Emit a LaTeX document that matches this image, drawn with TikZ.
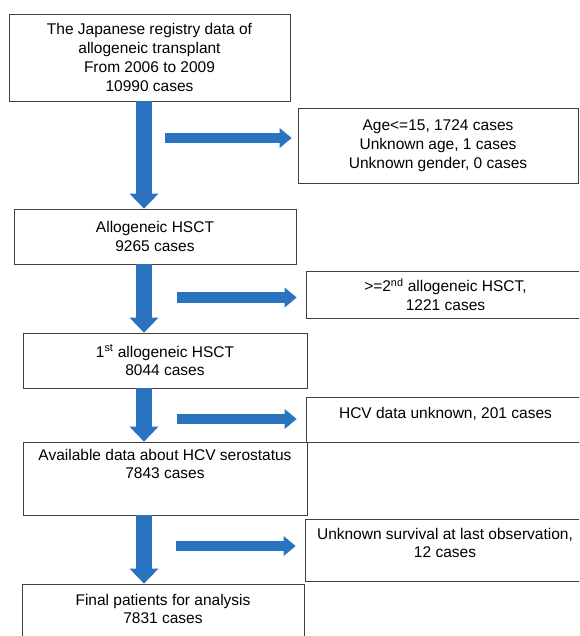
\documentclass[tikz,border=0pt]{standalone}
\usepackage{fontspec}
\setmainfont{Liberation Sans}
\usetikzlibrary{arrows.meta}
\definecolor{arrowblue}{rgb}{0.16, 0.45, 0.75}
\definecolor{boxline}{rgb}{0.25, 0.25, 0.25}
\newcommand{\boxfont}{\fontsize{15.5}{18.7}\selectfont}

\begin{document}
\begin{tikzpicture}[x=1pt,y=-1pt]
        \tikzstyle{box}=[draw=boxline, line width=0.8pt, inner sep=0pt, align=center, font=\boxfont]
        \tikzstyle{down}=[arrowblue, line width=16pt, -{Triangle[width=29pt,length=15pt,line width=0pt]}]
        \tikzstyle{side}=[arrowblue, line width=10.5pt, -{Triangle[width=20pt,length=12pt,line width=0pt]}, shorten >=9pt]
        \useasboundingbox (0,0) rectangle (579,636);
        \clip (0,0) rectangle (579,636);

        % Main flow (left column)
        \node (reg)[box, minimum width=281pt, minimum height=87pt] at (149.5,57.5)
            {The Japanese registry data of\\allogeneic transplant\\From 2006 to 2009\\10990 cases};
        \node (allo)[box, minimum width=282pt, minimum height=55pt] at (155,236.5)
            {Allogeneic HSCT\\9265 cases};
        \node (first)[box, minimum width=284pt, minimum height=55pt] at (165,360.5)
            {1\textsuperscript{st} allogeneic HSCT\\8044 cases};
        \node (hcv)[box, minimum width=284pt, minimum height=73pt, text depth=29pt] at (165,478.5)
            {Available data about HCV serostatus\\7843 cases};
        \node (final)[box, minimum width=282pt, minimum height=66pt, text depth=16pt] at (163,617)
            {Final patients for analysis\\7831 cases};

        % Excluded cases (right column)
        \node (ex1)[box, minimum width=280pt, minimum height=75pt] at (438,145.5)
            {Age<=15, 1724 cases\\Unknown age, 1 cases\\Unknown gender, 0 cases};
        \node (ex2)[box, minimum width=279pt, minimum height=47pt] at (445.5,294.5)
            {>=2\textsuperscript{nd} allogeneic HSCT,\\1221 cases};
        \node (ex3)[box, minimum width=279pt, minimum height=45pt, text depth=13pt] at (445.5,419.5)
            {HCV data unknown, 201 cases};
        \node (ex4)[box, minimum width=280pt, minimum height=62pt, text depth=14pt] at (445,550)
            {Unknown survival at last observation,\\12 cases};

        % Down arrows
        \coordinate (col) at (144,0);
        \draw[down] (col |- reg.south) -- (col |- allo.north);
        \draw[down] (col |- allo.south) -- (col |- first.north);
        \draw[down] (col |- first.south) -- (col |- hcv.north);
        \draw[down] (col |- hcv.south) -- (col |- final.north);

        % Side arrows
        \coordinate (s1) at (165,138);
        \coordinate (s2) at (177,297.5);
        \coordinate (s3) at (177,419);
        \coordinate (s4) at (176,546);
        \draw[side, shorten >=6pt] (s1) -- (s1 -| ex1.west);
        \draw[side] (s2) -- (s2 -| ex2.west);
        \draw[side] (s3) -- (s3 -| ex3.west);
        \draw[side] (s4) -- (s4 -| ex4.west);
\end{tikzpicture}
\end{document}
